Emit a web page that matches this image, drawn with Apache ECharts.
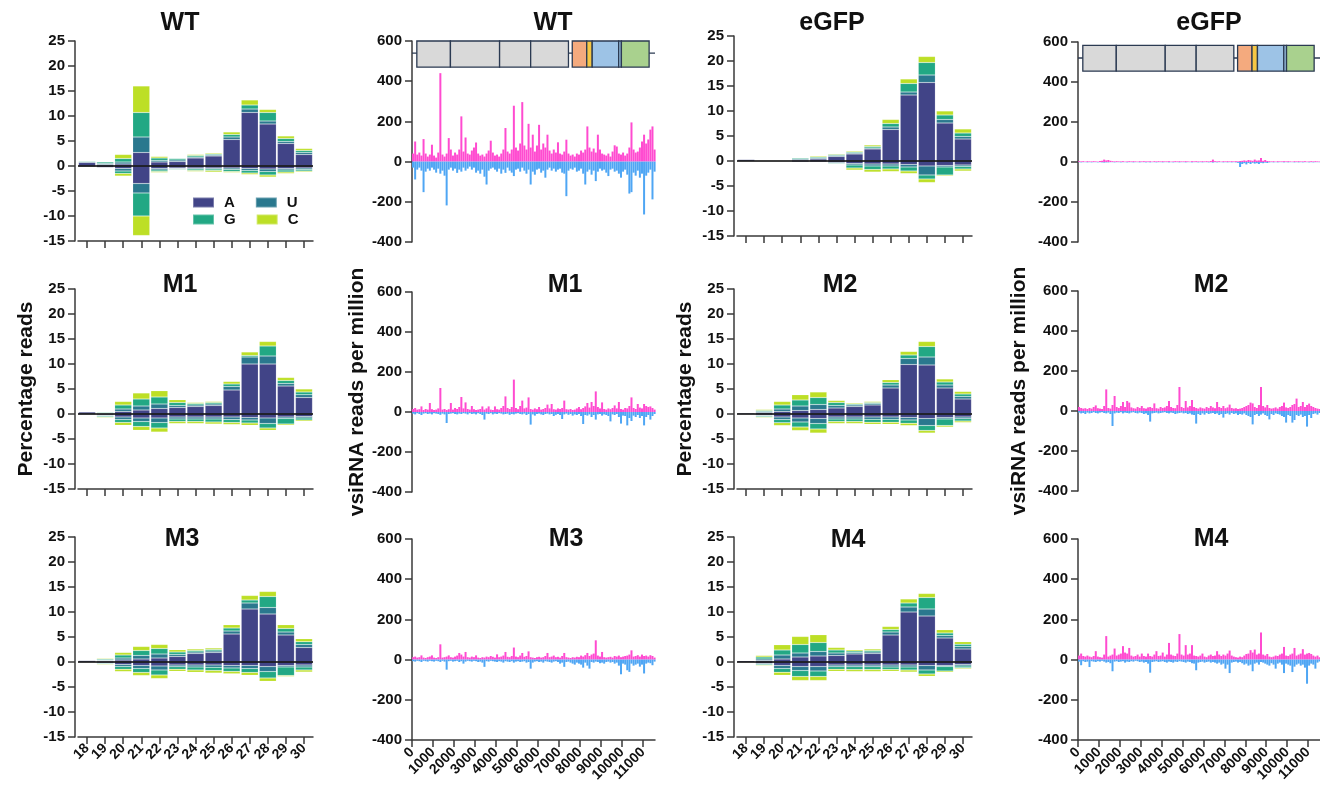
<!DOCTYPE html>
<html>
<head>
<meta charset="utf-8">
<title>vsiRNA size distribution and genome coverage</title>
<script src="https://cdn.jsdelivr.net/npm/echarts@6/dist/echarts.min.js"></script>
<style>
  html, body { margin: 0; padding: 0; background: #fff; }
  #chart { width: 1320px; height: 788px; }
</style>
</head>
<body>
<div id="chart"></div>
<script>
// ---------- read lengths and nucleotide classes ----------
const sizes = ['18','19','20','21','22','23','24','25','26','27','28','29','30'];
const bases = ['A','U','G','C'];

// Percentage of reads per length, split by 5' nucleotide [A, U, G, C].
// Sense reads are positive, antisense reads negative.
const wtSense = [
  [0.7,0.15,0.15,0.1],[0.3,0.2,0.3,0.1],[0.4,0.4,0.7,0.8],[2.7,3.1,4.9,5.3],[0.8,0.3,0.5,0.3],
  [0.9,0.3,0.3,0.1],[1.6,0.2,0.3,0.2],[2.0,0.2,0.2,0.2],[5.3,0.5,0.5,0.5],[10.7,0.7,0.8,1.0],
  [8.4,0.6,1.7,0.6],[4.5,0.4,0.6,0.5],[2.3,0.4,0.4,0.4]
];
const wtAnti = [
  [-0.2,-0.05,-0.05,-0.03],[-0.3,-0.1,-0.1,-0.1],[-0.5,-0.5,-0.5,-0.5],[-3.5,-1.9,-4.6,-3.9],[-0.5,-0.3,-0.3,-0.2],
  [-0.4,-0.15,-0.15,-0.1],[-0.4,-0.2,-0.3,-0.2],[-0.4,-0.2,-0.3,-0.3],[-0.4,-0.3,-0.4,-0.2],[-0.5,-0.4,-0.5,-0.3],
  [-0.6,-0.5,-0.7,-0.4],[-0.5,-0.3,-0.4,-0.3],[-0.4,-0.3,-0.3,-0.2]
];
const egfpSense = [
  [0.3,0.1,0.05,0.05],[0.1,0.05,0.03,0.02],[0.1,0.05,0.1,0.05],[0.2,0.2,0.2,0.1],[0.4,0.2,0.2,0.2],
  [0.9,0.2,0.2,0.15],[1.4,0.2,0.2,0.2],[2.4,0.2,0.3,0.3],[6.3,0.5,0.7,0.8],[13.2,0.6,1.7,0.9],
  [15.7,1.5,2.5,1.2],[7.6,0.7,0.9,0.8],[4.4,0.5,0.7,0.8]
];
const egfpAnti = [
  [-0.1,-0.05,-0.03,-0.02],[-0.08,-0.03,-0.02,-0.02],[-0.1,-0.04,-0.04,-0.02],[-0.2,-0.1,-0.1,-0.1],[-0.2,-0.1,-0.1,-0.1],
  [-0.3,-0.15,-0.15,-0.1],[-0.5,-0.3,-0.6,-0.4],[-0.6,-0.4,-0.7,-0.5],[-0.6,-0.4,-0.6,-0.5],[-0.7,-0.5,-0.8,-0.5],
  [-1.0,-1.8,-0.8,-0.7],[-0.9,-0.3,-1.6,-0.2],[-0.8,-0.3,-0.5,-0.4]
];
const m1Sense = [
  [0.4,0.1,0.1,0.05],[0.15,0.1,0.15,0.1],[0.5,0.5,0.8,0.7],[0.8,0.8,1.4,1.2],[1.1,0.9,1.4,1.25],
  [1.3,0.4,0.6,0.55],[1.5,0.3,0.3,0.2],[1.7,0.3,0.3,0.2],[4.8,0.7,0.5,0.5],[10.0,1.4,0.3,0.7],
  [10.0,1.6,2.0,0.9],[5.6,0.5,0.6,0.6],[3.3,0.55,0.55,0.6]
];
const m1Anti = [
  [-0.15,-0.05,-0.05,-0.05],[-0.2,-0.15,-0.2,-0.15],[-0.6,-0.5,-0.6,-0.55],[-0.8,-0.7,-1.0,-0.75],[-0.8,-0.9,-1.1,-0.8],
  [-0.6,-0.4,-0.5,-0.4],[-0.6,-0.4,-0.5,-0.4],[-0.6,-0.4,-0.6,-0.4],[-0.6,-0.5,-0.6,-0.4],[-0.7,-0.5,-0.6,-0.45],
  [-0.8,-1.1,-0.9,-0.45],[-0.6,-0.3,-1.1,-0.25],[-0.5,-0.3,-0.4,-0.25]
];
const m2Sense = [
  [0.2,0.05,0.03,0.02],[0.3,0.2,0.2,0.2],[0.5,0.5,0.8,0.7],[0.7,0.9,1.2,1.05],[0.9,1.0,1.4,1.1],
  [1.2,0.5,0.6,0.4],[1.5,0.3,0.2,0.2],[1.8,0.3,0.2,0.2],[5.2,0.6,0.5,0.55],[9.9,1.2,0.7,0.7],
  [9.8,1.6,2.1,1.0],[5.2,0.6,0.6,0.6],[3.0,0.5,0.5,0.5]
];
const m2Anti = [
  [-0.1,-0.05,-0.03,-0.02],[-0.2,-0.15,-0.2,-0.15],[-0.6,-0.5,-0.65,-0.55],[-0.8,-0.8,-1.0,-0.7],[-0.9,-1.0,-1.1,-0.8],
  [-0.6,-0.4,-0.5,-0.4],[-0.6,-0.4,-0.5,-0.4],[-0.6,-0.45,-0.6,-0.4],[-0.6,-0.45,-0.6,-0.4],[-0.7,-0.5,-0.65,-0.45],
  [-0.9,-1.4,-1.0,-0.5],[-0.7,-0.3,-1.3,-0.3],[-0.6,-0.35,-0.45,-0.3]
];
const m3Sense = [
  [0.3,0.07,0.05,0.03],[0.2,0.15,0.2,0.15],[0.4,0.4,0.6,0.5],[0.6,0.7,1.0,0.8],[0.8,0.8,1.1,0.8],
  [1.1,0.4,0.5,0.45],[1.7,0.3,0.3,0.3],[1.9,0.3,0.3,0.3],[5.6,0.6,0.6,0.65],[10.6,1.2,0.6,0.9],
  [9.6,1.3,2.2,1.0],[5.4,0.6,0.7,0.75],[2.9,0.6,0.55,0.6]
];
const m3Anti = [
  [-0.1,-0.05,-0.03,-0.02],[-0.2,-0.1,-0.15,-0.15],[-0.5,-0.4,-0.55,-0.45],[-0.7,-0.6,-0.8,-0.6],[-0.8,-0.8,-1.0,-0.7],
  [-0.6,-0.35,-0.5,-0.4],[-0.6,-0.4,-0.6,-0.45],[-0.6,-0.45,-0.65,-0.5],[-0.7,-0.5,-0.7,-0.45],[-0.7,-0.6,-0.8,-0.55],
  [-0.9,-1.0,-1.3,-0.65],[-0.7,-0.3,-1.7,-0.2],[-0.6,-0.4,-0.6,-0.4]
];
const m4Sense = [
  [0.25,0.1,0.05,0.05],[0.3,0.3,0.4,0.3],[0.6,0.8,1.0,1.05],[1.0,0.8,1.7,1.6],[1.2,0.9,1.8,1.55],
  [1.3,0.5,0.6,0.5],[1.6,0.3,0.3,0.25],[1.7,0.3,0.3,0.3],[5.4,0.6,0.5,0.6],[10.0,1.0,0.8,0.8],
  [9.2,1.4,2.3,0.8],[4.8,0.5,0.5,0.65],[2.6,0.5,0.45,0.5]
];
const m4Anti = [
  [-0.1,-0.05,-0.03,-0.02],[-0.3,-0.15,-0.2,-0.15],[-0.7,-0.6,-0.75,-0.6],[-0.9,-0.8,-1.2,-0.8],[-0.9,-0.9,-1.1,-0.8],
  [-0.6,-0.35,-0.5,-0.4],[-0.6,-0.35,-0.55,-0.4],[-0.6,-0.35,-0.55,-0.4],[-0.6,-0.4,-0.5,-0.35],[-0.6,-0.4,-0.6,-0.4],
  [-0.7,-0.9,-0.8,-0.45],[-0.7,-0.2,-0.9,-0.25],[-0.5,-0.3,-0.35,-0.2]
];

// ---------- genome coverage (reads per million, 100-nt bins from position 0) ----------
const BIN = 100;
const genomeTicks = [0,1000,2000,3000,4000,5000,6000,7000,8000,9000,10000,11000];
const GENOME_AXIS_MAX = 11570;

const wtPlus = [
  40,100,35,45,30,112,40,25,35,84,   30,20,45,440,35,25,40,117,60,30,
  45,35,60,225,50,120,40,35,55,70,   95,40,30,35,25,40,55,104,45,30,
  35,25,40,60,167,50,40,60,278,70,   55,90,296,80,60,188,70,134,50,80,
  183,60,90,70,134,55,40,60,45,96,   40,35,50,109,40,30,35,25,40,35,
  55,45,60,175,70,50,65,45,134,60,   40,35,30,40,25,50,81,75,40,35,
  45,30,40,70,195,60,45,50,70,100,   134,90,110,159,175,60
];
const wtMinus = [
  -30,-89,-40,-30,-45,-152,-50,-35,-45,-30,  -40,-55,-35,-60,-45,-70,-218,-40,-30,-45,
  -35,-56,-40,-50,-30,-45,-35,-25,-40,-30,   -55,-45,-60,-40,-75,-114,-45,-35,-30,-40,
  -50,-35,-60,-40,-56,-30,-45,-55,-72,-40,   -35,-50,-30,-45,-60,-40,-114,-50,-65,-40,
  -35,-55,-45,-80,-40,-30,-45,-35,-50,-40,   -35,-55,-60,-172,-45,-35,-40,-30,-50,-45,
  -35,-60,-114,-50,-40,-65,-45,-97,-50,-35,  -45,-40,-55,-72,-40,-35,-50,-45,-60,-80,
  -50,-40,-65,-159,-152,-55,-70,-45,-80,-60, -263,-70,-55,-40,-188,-50
];
const egfpPlus = [
  4,3,4,2,4,3,3,4,3,2,  5,6,12,8,10,6,4,3,4,3,
  3,4,2,3,4,3,4,3,2,4,  3,4,3,3,4,2,4,3,4,3,
  4,3,3,4,2,3,4,3,4,3,  3,4,3,2,4,3,4,3,3,4,
  3,4,3,5,12,4,3,4,2,4, 3,4,3,4,3,4,3,5,6,8,
  6,10,8,6,12,7,8,20,6,10, 5,4,3,4,2,4,3,3,4,3,
  4,3,2,4,3,4,3,3,4,2,  3,4,3,4,3,3
];
const egfpMinus = [
  -1,-2,-1,-1,-2,-1,-2,-1,-1,-2,  -1,-2,-3,-2,-2,-1,-1,-2,-1,-1,
  -2,-1,-1,-2,-1,-1,-2,-1,-1,-2,  -1,-1,-2,-1,-2,-1,-1,-2,-1,-1,
  -2,-1,-1,-2,-1,-2,-1,-1,-2,-1,  -1,-2,-1,-1,-2,-1,-1,-2,-1,-2,
  -1,-1,-2,-1,-3,-1,-2,-1,-1,-2,  -1,-2,-1,-2,-1,-2,-4,-25,-10,-6,
  -12,-5,-10,-4,-8,-6,-10,-4,-6,-3, -5,-2,-1,-2,-1,-2,-1,-1,-2,-1,
  -2,-1,-1,-2,-1,-2,-1,-2,-1,-1,  -2,-1,-2,-1,-1,-1
];
const m1Plus = [
  15,20,12,14,28,10,15,12,45,14,   10,12,18,120,12,15,10,14,45,12,
  20,15,25,75,18,48,15,12,30,14,   10,12,15,28,12,18,28,12,10,28,
  14,12,20,30,78,20,15,25,162,20,  14,30,57,18,22,73,15,12,18,14,
  25,12,15,20,37,18,40,14,12,18,   15,20,57,14,12,15,10,12,18,25,
  14,20,28,45,22,50,30,103,25,18,  48,15,12,18,14,20,33,18,50,15,
  12,20,18,30,73,20,15,40,22,18,   40,30,25,28,20,12
];
const m1Minus = [
  -8,-12,-6,-10,-15,-8,-6,-10,-8,-12,   -6,-8,-10,-14,-8,-12,-55,-10,-8,-6,
  -10,-12,-8,-10,-6,-8,-12,-6,-10,-8,   -12,-6,-10,-15,-38,-8,-10,-6,-12,-8,
  -10,-6,-8,-12,-10,-8,-14,-10,-12,-8,  -6,-10,-12,-8,-15,-10,-63,-12,-18,-10,
  -8,-12,-15,-10,-8,-12,-10,-20,-14,-10, -15,-35,-12,-8,-14,-10,-18,-12,-15,-10,
  -20,-60,-15,-18,-12,-25,-15,-38,-12,-10, -18,-12,-15,-20,-47,-12,-15,-10,-25,-58,
  -18,-20,-67,-30,-45,-18,-25,-15,-30,-20, -67,-25,-15,-38,-20,-10
];
const m2Plus = [
  20,15,12,14,10,15,12,20,28,14,   12,10,25,108,15,12,30,75,20,15,
  25,45,20,50,42,18,14,12,20,15,   25,14,12,18,20,15,38,14,12,20,
  15,18,25,50,20,15,14,30,120,20,  15,50,18,25,55,20,15,12,18,14,
  12,20,15,25,18,14,45,20,15,25,   14,18,32,15,12,14,10,12,15,20,
  25,30,42,38,20,15,30,120,25,18,  30,15,12,14,18,12,20,25,42,18,
  15,20,30,35,62,20,25,45,20,30,   37,25,20,15,12,10
];
const m2Minus = [
  -8,-12,-10,-15,-8,-12,-10,-6,-10,-12,   -8,-6,-10,-12,-8,-15,-75,-12,-8,-10,
  -6,-12,-8,-10,-12,-8,-6,-10,-12,-8,     -10,-15,-12,-20,-53,-12,-10,-8,-12,-10,
  -8,-6,-10,-12,-8,-10,-15,-12,-10,-8,    -12,-10,-15,-12,-18,-20,-63,-15,-20,-12,
  -18,-10,-15,-12,-10,-15,-12,-20,-15,-33, -15,-12,-18,-10,-15,-12,-20,-15,-18,-12,
  -20,-25,-30,-67,-20,-15,-25,-18,-12,-20, -25,-42,-15,-20,-12,-15,-18,-25,-30,-58,
  -20,-25,-58,-45,-20,-25,-18,-30,-25,-78, -20,-35,-15,-12,-18,-10
];
const m3Plus = [
  12,15,10,12,21,10,8,12,15,21,   10,8,12,76,10,12,15,21,12,10,
  15,20,33,25,15,38,12,10,15,12,  21,10,8,12,10,15,12,18,14,10,
  26,12,15,20,38,14,12,18,60,15,  12,20,33,14,18,41,12,10,8,12,
  14,10,12,18,33,12,15,20,12,14,  10,18,33,12,10,8,12,10,14,12,
  20,15,22,33,18,25,30,96,20,15,  38,12,10,12,14,10,18,15,20,12,
  15,18,20,25,46,15,18,22,15,25,  18,20,15,22,18,10
];
const m3Minus = [
  -8,-10,-6,-8,-12,-6,-8,-10,-6,-8,     -10,-6,-8,-12,-6,-10,-50,-8,-6,-10,
  -8,-6,-12,-8,-20,-10,-6,-8,-10,-6,    -8,-12,-10,-15,-36,-8,-10,-6,-8,-10,
  -12,-8,-10,-15,-8,-10,-12,-8,-15,-10, -8,-12,-10,-8,-15,-12,-45,-15,-10,-8,
  -12,-10,-15,-8,-10,-12,-15,-10,-8,-12, -20,-15,-36,-12,-10,-15,-20,-25,-15,-20,
  -25,-40,-15,-30,-45,-12,-15,-10,-12,-18, -15,-20,-12,-10,-15,-12,-20,-15,-30,-73,
  -20,-25,-53,-61,-20,-30,-25,-20,-35,-25, -69,-20,-15,-18,-28,-10
];
const m4Plus = [
  20,30,18,15,20,15,12,18,42,15,   12,10,25,117,15,20,25,55,20,25,
  30,67,35,30,58,20,15,18,25,15,   30,18,15,30,18,15,25,42,18,20,
  35,15,25,83,25,20,18,30,127,25,  20,72,25,30,72,20,18,15,20,30,
  15,12,20,25,18,20,42,25,18,25,   20,30,45,20,15,12,10,15,12,20,
  28,30,47,35,50,25,30,135,25,20,  28,15,12,15,20,18,25,30,63,20,
  18,25,30,58,20,25,30,52,25,30,   33,28,20,15,20,12
];
const m4Minus = [
  -10,-28,-8,-12,-10,-37,-8,-10,-12,-8,     -10,-6,-10,-15,-12,-18,-58,-10,-8,-12,
  -10,-8,-15,-10,-12,-8,-10,-6,-8,-12,      -10,-15,-12,-20,-65,-12,-10,-8,-12,-10,
  -8,-12,-15,-10,-12,-15,-10,-12,-8,-10,    -12,-15,-10,-12,-18,-20,-53,-15,-12,-10,
  -15,-12,-10,-15,-12,-15,-20,-15,-25,-20,  -45,-25,-67,-15,-12,-10,-15,-12,-18,-25,
  -20,-30,-25,-58,-20,-15,-25,-12,-15,-20,  -25,-30,-18,-25,-45,-20,-15,-25,-67,-20,
  -25,-30,-62,-35,-25,-20,-30,-25,-40,-120, -30,-20,-25,-45,-15,-10
];

// ---------- genome organisation (nt) ----------
const genomeRegions = [
  ['nsP1', 230, 1830], ['nsP2', 1830, 4170], ['nsP3', 4170, 5650], ['nsP4', 5650, 7450],
  ['C', 7630, 8320], ['E3', 8320, 8580], ['E2', 8580, 9840], ['6K', 9840, 9970], ['E1', 9970, 11290]
];

// ---------- styling ----------
const FONT = '"Liberation Sans", Arial, Helvetica, sans-serif';
const INK = '#111111';
const AXIS = '#3a3a3a';
const BASE_COLORS = ['#414487', '#2A788E', '#22A884', '#BDDF26'];
const PLUS_COLOR = '#FF4BD0';
const MINUS_COLOR = '#4FA6F4';
const MAP_EDGE = '#2B3A52';
const REGION_FILL = {
  nsP1: '#D9D9D9', nsP2: '#D9D9D9', nsP3: '#D9D9D9', nsP4: '#D9D9D9',
  C: '#F4AA7E', E3: '#F6C744', E2: '#9DC3E6', '6K': '#9DC3E6', E1: '#A9D18E'
};

// panel placement
const barPanels = [
  { label: 'WT',   sense: wtSense,   anti: wtAnti,   left: 78,  top: 41,  title: [180, 23], legend: true },
  { label: 'eGFP', sense: egfpSense, anti: egfpAnti, left: 737, top: 36,  title: [832, 23] },
  { label: 'M1',   sense: m1Sense,   anti: m1Anti,   left: 78,  top: 289, title: [180, 285], yName: 'Percentage reads', nameGap: 38 },
  { label: 'M2',   sense: m2Sense,   anti: m2Anti,   left: 737, top: 289, title: [840, 285], yName: 'Percentage reads', nameGap: 38 },
  { label: 'M3',   sense: m3Sense,   anti: m3Anti,   left: 78,  top: 537, title: [182, 539], xLabels: true },
  { label: 'M4',   sense: m4Sense,   anti: m4Anti,   left: 737, top: 537, title: [848, 540], xLabels: true }
];
const coveragePanels = [
  { label: 'WT',   plus: wtPlus,   minus: wtMinus,   left: 412,  top: 41,  height: 201, title: [553, 23],  map: { top: 600, bottom: 470, mid: 540 } },
  { label: 'eGFP', plus: egfpPlus, minus: egfpMinus, left: 1078, top: 42,  height: 200, title: [1209, 23], map: { top: 583, bottom: 454, mid: 520 } },
  { label: 'M1',   plus: m1Plus,   minus: m1Minus,   left: 412,  top: 292, height: 200, title: [565, 285], yName: 'vsiRNA reads per million', nameGap: 43 },
  { label: 'M2',   plus: m2Plus,   minus: m2Minus,   left: 1078, top: 291, height: 200, title: [1211, 285], yName: 'vsiRNA reads per million', nameGap: 48 },
  { label: 'M3',   plus: m3Plus,   minus: m3Minus,   left: 412,  top: 539, height: 201, title: [566, 539], xLabels: true },
  { label: 'M4',   plus: m4Plus,   minus: m4Minus,   left: 1078, top: 539, height: 201, title: [1211, 539], xLabels: true }
];

const option = {
  animation: false,
  backgroundColor: '#ffffff',
  textStyle: { fontFamily: FONT },
  title: [], legend: [], grid: [], xAxis: [], yAxis: [], series: []
};

const axisLine = { show: true, onZero: false, lineStyle: { color: AXIS, width: 1.5 } };
const axisTick = { show: true, length: 7, lineStyle: { color: AXIS, width: 1.5 } };
const tickText = { color: INK, fontWeight: 'bold', fontSize: 15, fontFamily: FONT, margin: 10 };
const nameText = { color: INK, fontWeight: 'bold', fontSize: 21, fontFamily: FONT };

function addTitle(text, pos) {
  option.title.push({
    text, left: pos[0], top: pos[1], padding: 0,
    textAlign: 'center', textVerticalAlign: 'middle',
    textStyle: { color: INK, fontSize: 25, fontWeight: 'bold', fontFamily: FONT }
  });
}

// ---------- read-length panels ----------
barPanels.forEach(p => {
  const g = option.grid.length;
  option.grid.push({ left: p.left, top: p.top, width: 235, height: 200 });
  addTitle(p.label, p.title);
  option.xAxis.push({
    gridIndex: g, type: 'category', data: sizes, position: 'bottom',
    axisLine, axisTick: Object.assign({ alignWithLabel: true }, axisTick),
    axisLabel: Object.assign({}, tickText, { show: !!p.xLabels, rotate: 45, fontSize: 14, margin: 9, interval: 0 }),
    splitLine: { show: false }
  });
  option.yAxis.push({
    gridIndex: g, type: 'value', min: -15, max: 25, interval: 5, offset: 3,
    axisLine, axisTick, axisLabel: tickText, splitLine: { show: false },
    name: p.yName || '', nameLocation: 'middle', nameGap: p.nameGap || 30, nameTextStyle: nameText
  });
  [p.sense, p.anti].forEach(strand => {
    bases.forEach((b, k) => {
      option.series.push({
        type: 'bar', name: b, xAxisIndex: g, yAxisIndex: g, stack: 'len' + g,
        barCategoryGap: '6%',
        data: strand.map(row => row[k]),
        itemStyle: { color: BASE_COLORS[k], borderColor: 'rgba(255,255,255,0.3)', borderWidth: 0.5 },
        emphasis: { disabled: true }
      });
    });
  });
  // zero line across the panel
  option.series[option.series.length - 1].markLine = {
    silent: true, symbol: 'none', z: 10, label: { show: false },
    lineStyle: { color: '#000', width: 1.6, type: 'solid' },
    data: [{ yAxis: 0 }]
  };
  if (p.legend) {
    const legendBase = {
      left: 192, padding: 0, itemWidth: 21, itemHeight: 10, itemGap: 20, icon: 'rect',
      selectedMode: false,
      textStyle: { color: INK, fontSize: 15, fontWeight: 'bold', fontFamily: FONT, padding: [0, 0, 0, 5] }
    };
    option.legend.push(Object.assign({}, legendBase, { top: 195, data: ['A', 'U'] }));
    option.legend.push(Object.assign({}, legendBase, { top: 212, data: ['G', 'C'] }));
  }
});

// ---------- genome coverage panels ----------
coveragePanels.forEach(p => {
  const g = option.grid.length;
  option.grid.push({ left: p.left, top: p.top, width: 243, height: p.height });
  addTitle(p.label, p.title);
  const showX = !!p.xLabels;
  option.xAxis.push({
    gridIndex: g, type: 'value', min: 0, max: GENOME_AXIS_MAX,
    axisLine: Object.assign({}, axisLine, { show: showX }),
    axisTick: Object.assign({}, axisTick, { show: showX, customValues: genomeTicks }),
    axisLabel: Object.assign({}, tickText, {
      show: showX, rotate: 45, fontSize: 14, margin: 10, customValues: genomeTicks,
      formatter: v => String(v)
    }),
    splitLine: { show: false }
  });
  option.yAxis.push({
    gridIndex: g, type: 'value', min: -400, max: 600, interval: 200,
    axisLine, axisTick, axisLabel: tickText, splitLine: { show: false },
    name: p.yName || '', nameLocation: 'middle', nameGap: p.nameGap || 30, nameTextStyle: nameText
  });
  [[p.plus, PLUS_COLOR], [p.minus, MINUS_COLOR]].forEach(([vals, color]) => {
    option.series.push({
      type: 'bar', xAxisIndex: g, yAxisIndex: g, stack: 'cov' + g, barWidth: 2,
      data: vals.map((v, i) => [i * BIN + BIN / 2, v]),
      itemStyle: { color }, emphasis: { disabled: true }, silent: true
    });
  });
  if (p.map) {
    const m = p.map;
    // genome backbone
    option.series.push({
      type: 'line', xAxisIndex: g, yAxisIndex: g, silent: true, symbol: 'none', z: 3,
      data: [[0, m.mid], [GENOME_AXIS_MAX, m.mid]],
      lineStyle: { color: MAP_EDGE, width: 1.3 }
    });
    // coding regions
    option.series.push({
      type: 'custom', xAxisIndex: g, yAxisIndex: g, silent: true, clip: false, z: 4,
      data: genomeRegions.map(r => [r[1], r[2]]),
      renderItem: (params, api) => {
        const a = api.coord([api.value(0), m.top]);
        const b = api.coord([api.value(1), m.bottom]);
        return {
          type: 'rect',
          shape: { x: a[0], y: a[1], width: b[0] - a[0], height: b[1] - a[1] },
          style: { fill: REGION_FILL[genomeRegions[params.dataIndex][0]], stroke: MAP_EDGE, lineWidth: 1.3 }
        };
      }
    });
  }
});

const chart = echarts.init(document.getElementById('chart'), null, { renderer: 'canvas' });
chart.setOption(option);
</script>
</body>
</html>
